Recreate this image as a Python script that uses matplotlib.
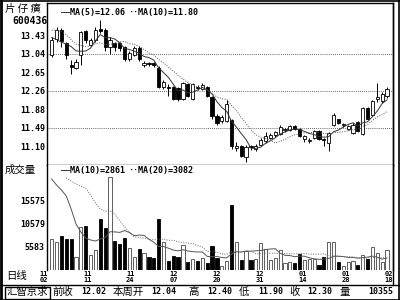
import matplotlib
matplotlib.use("Agg")
import matplotlib.pyplot as plt
from matplotlib.patches import Rectangle
from matplotlib.lines import Line2D
import matplotlib.transforms as mtransforms
import numpy as np
import pandas as pd

# 片仔癀 600436 日线

# 窗口之前的数据, 只用来算均线
prev_close = [13.50, 13.62, 13.70, 13.80, 13.85, 13.75, 13.60, 13.20, 13.05]
prev_volume = [20100, 16200, 18700, 18330, 34030, 39500, 37450, 19450,
               18550, 20200, 35300, 35800, 27100, 22930, 7930, 6940]

open_ = [13.02, 13.35, 13.55, 13.27, 12.80, 12.75, 13.02, 13.53, 13.23, 13.33,
         13.57, 13.55, 13.18, 13.27, 13.27, 13.18, 12.94, 13.02, 13.16, 12.80,
         12.84, 12.86, 12.75, 12.34, 12.35, 12.34, 12.32, 12.10, 12.40, 12.10,
         12.34, 12.30, 12.34, 12.14, 11.73, 11.62, 11.62, 11.64, 11.05, 11.11,
         10.87, 11.09, 11.03, 11.13, 11.21, 11.27, 11.33, 11.35, 11.43, 11.43,
         11.52, 11.45, 11.25, 11.21, 11.27, 11.41, 11.25, 11.17, 11.55, 11.66,
         11.54, 11.45, 11.37, 11.60, 11.36, 11.91, 11.75, 12.10, 12.04, 12.16]
high = [13.40, 13.60, 13.58, 13.30, 12.92, 12.93, 13.53, 13.55, 13.38, 13.60,
        13.76, 13.58, 13.40, 13.30, 13.30, 13.20, 13.10, 13.20, 13.20, 12.90,
        12.88, 12.88, 12.78, 12.50, 12.40, 12.36, 12.34, 12.45, 12.42, 12.42,
        12.38, 12.42, 12.36, 12.16, 11.78, 11.75, 12.06, 11.66, 11.18, 11.13,
        11.13, 11.12, 11.15, 11.26, 11.40, 11.38, 11.42, 11.55, 11.48, 11.54,
        11.54, 11.47, 11.33, 11.27, 11.43, 11.43, 11.27, 11.40, 11.80, 11.68,
        11.58, 11.55, 11.58, 11.62, 11.93, 11.93, 12.07, 12.42, 12.24, 12.34]
low = [12.98, 13.30, 13.18, 12.93, 12.61, 12.72, 12.81, 13.28, 13.20, 13.30,
       13.48, 13.10, 13.05, 13.10, 13.10, 12.90, 12.90, 13.00, 12.90, 12.76,
       12.78, 12.76, 12.32, 12.30, 12.15, 12.08, 12.05, 12.08, 12.14, 12.06,
       12.28, 12.28, 12.14, 11.66, 11.55, 11.58, 11.60, 11.04, 10.99, 10.86,
       10.77, 11.02, 11.00, 11.10, 11.16, 11.24, 11.30, 11.33, 11.40, 11.41,
       11.43, 11.29, 11.18, 11.16, 11.25, 11.23, 11.10, 10.99, 11.52, 11.56,
       11.50, 11.43, 11.35, 11.39, 11.34, 11.66, 11.73, 12.02, 12.00, 12.12]
close = [13.33, 13.55, 13.31, 13.02, 12.77, 12.88, 13.51, 13.33, 13.33, 13.55,
         13.53, 13.18, 13.33, 13.18, 13.16, 12.94, 13.06, 13.16, 12.94, 12.84,
         12.82, 12.80, 12.34, 12.45, 12.33, 12.10, 12.10, 12.42, 12.16, 12.40,
         12.32, 12.38, 12.16, 11.73, 11.58, 11.71, 11.99, 11.11, 11.11, 10.90,
         11.07, 11.07, 11.11, 11.23, 11.31, 11.33, 11.39, 11.50, 11.45, 11.52,
         11.45, 11.31, 11.31, 11.23, 11.41, 11.25, 11.23, 11.37, 11.75, 11.58,
         11.56, 11.52, 11.54, 11.41, 11.91, 11.68, 12.05, 12.14, 12.20, 12.30]
volume = [7100, 6450, 7750, 7100, 7100, 3200, 9700, 9930, 3630, 4700,
          11450, 9500, 20570, 6670, 6000, 7320, 5150, 3200, 4930, 4060,
          3200, 2980, 11450, 6450, 2330, 3410, 3200, 5800, 2100, 2760,
          2330, 2980, 1900, 5580, 2980, 1250, 2330, 14500, 6450, 2540,
          4500, 2540, 2760, 6230, 4930, 2540, 2980, 4700, 1900, 2100,
          1900, 3850, 2540, 2760, 2760, 1470, 3200, 6450, 6450, 2100,
          1250, 2100, 2330, 1470, 3630, 2760, 5370, 4060, 2100, 4700]

date_labels = ["11\n02", "11\n11", "11\n24", "12\n07", "12\n20",
               "12\n31", "01\n14", "01\n28", "02\n18"]
price_ticks = [13.43, 13.04, 12.65, 12.26, 11.88, 11.49, 11.10]
grid_levels = [13.04, 12.26, 11.49]
vol_ticks = [15575, 10579, 5583]
price_legend = ["MA(5)=12.06", "MA(10)=11.80"]
vol_legend = ["MA(10)=2861", "MA(20)=3082"]
info_names = ["前收", "本周开", "高", "低", "收", "量"]
info_values = ["12.02", "12.04", "12.40", "11.90", "12.30", "10355"]

MONO = "DejaVu Sans Mono"
CJK = ["Noto Sans CJK SC", "DejaVu Sans"]

W, H = 400, 300


def fx(px):
    return px / W


def fy(py):
    return 1 - py / H


def fline(x0, y0, x1, y1, lw=1.0):
    fig.add_artist(Line2D([fx(x0), fx(x1)], [fy(y0), fy(y1)],
                          transform=fig.transFigure, color="black", lw=lw))


# 均线
full_close = pd.Series(prev_close + close)
ma5 = full_close.rolling(5).mean().values[len(prev_close):]
ma10 = full_close.rolling(10).mean().values[len(prev_close):]
full_vol = pd.Series(prev_volume + volume)
vma10 = full_vol.rolling(10).mean().values[len(prev_volume):]
vma20 = full_vol.rolling(20).mean().values[len(prev_volume):]

o = np.array(open_)
c = np.array(close)
x = np.arange(len(close))
up = c >= o

fig = plt.figure(figsize=(4, 3), dpi=100)
fig.patch.set_facecolor("white")

ax_p = fig.add_axes([fx(47), fy(165), fx(393) - fx(47), fy(3) - fy(165)])
ax_v = fig.add_axes([fx(47), fy(270), fx(393) - fx(47), fy(165) - fy(270)])

for ax in (ax_p, ax_v):
    ax.set_xlim(-0.97, 70.23)
    ax.set_xticks([])
    ax.tick_params(axis="y", length=0, pad=1.5)
    for s in ax.spines.values():
        s.set_linewidth(1.0)
ax_v.spines["top"].set_visible(False)
ax_v.spines["bottom"].set_visible(False)

# K线
ax_p.set_ylim(10.70, 14.115)
ax_p.set_yticks(price_ticks, labels=[f"{t:.2f}" for t in price_ticks],
                fontsize=6, fontweight="bold", family=MONO)
for g in grid_levels:
    ax_p.axhline(g, color="#333333", lw=0.6, ls=(0, (1, 1.5)), zorder=1)
ax_p.vlines(x, low, high, color="black", lw=0.7, zorder=2)
ax_p.bar(x, np.abs(c - o), bottom=np.minimum(o, c), width=0.66,
         color=np.where(up, "white", "black"), edgecolor="black", lw=0.6, zorder=3)
ax_p.plot(x, ma5, color="#333333", lw=0.7, zorder=4)
ax_p.plot(x, ma10, color="#555555", lw=0.7, ls=(0, (1, 1.5)), zorder=4)
ax_p.text((60 - 47) / 346, 0.94, "──" + price_legend[0], transform=ax_p.transAxes,
          va="center", fontsize=6, fontweight="bold", family=MONO)
ax_p.text((128 - 47) / 346, 0.94, "··" + price_legend[1], transform=ax_p.transAxes,
          va="center", fontsize=6, fontweight="bold", family=MONO)

# 成交量
ax_v.set_ylim(370, 23180)
ax_v.set_yticks(vol_ticks, labels=[str(t) for t in vol_ticks],
                fontsize=6, fontweight="bold", family=MONO)
ax_v.bar(x, volume, width=0.66, color=np.where(up, "white", "black"),
         edgecolor=np.where(up, "#444444", "black"), lw=0.6, zorder=3)
ax_v.plot(x, vma10, color="#555555", lw=0.7, zorder=4)
ax_v.plot(x, vma20, color="#666666", lw=0.7, ls=(0, (1, 1.5)), zorder=4)
ax_v.text((60 - 47) / 346, 0.943, "──" + vol_legend[0], transform=ax_v.transAxes,
          va="center", fontsize=6, fontweight="bold", family=MONO)
ax_v.text((128 - 47) / 346, 0.943, "··" + vol_legend[1], transform=ax_v.transAxes,
          va="center", fontsize=6, fontweight="bold", family=MONO)

# 日期
trans = mtransforms.blended_transform_factory(ax_v.transData, ax_v.transAxes)
for pos, lab in zip(np.linspace(-1.58, 69.4, len(date_labels)), date_labels):
    ax_v.text(pos, -0.005, lab, transform=trans, ha="center", va="top",
              fontsize=5, fontweight="bold", family=MONO, linespacing=1.0,
              clip_on=False)

# 左上和左侧文字
fig.text(fx(5), fy(9), "片 仔 癀", fontsize=7.5, va="center", family=CJK)
fig.text(fx(48), fy(21), "600436", fontsize=7, va="center", ha="right",
         fontweight="bold", family=MONO)
fig.text(fx(5), fy(170), "成交量", fontsize=7.5, va="center", family=CJK)
fig.text(fx(6), fy(276), "日线", fontsize=7.5, va="center", family=CJK)

# 底部信息栏
fig.text(fx(27), fy(292), "汇智京求", fontsize=7.5, va="center", ha="center", family=CJK)
name_x = [52, 113, 188, 239, 289, 339]
value_x = [81, 151, 207, 258, 307, 368]
for nx, name, vx, val in zip(name_x, info_names, value_x, info_values):
    fig.text(fx(nx), fy(292), name, fontsize=7.5, va="center", family=CJK)
    fig.text(fx(vx), fy(292), val, fontsize=6, va="center", fontweight="bold", family=MONO)

# 边框
fline(0, 0.5, 400, 0.5, lw=1.2)
fline(0.8, 0, 0.8, 300, lw=2.0)
fline(398.5, 0, 398.5, 300, lw=1.2)
fline(0, 299.5, 400, 299.5, lw=1.2)
fline(393, 3, 393, 285, lw=1.0)
fline(0, 285, 400, 285, lw=1.0)
fig.add_artist(Rectangle((fx(4.5), fy(298.5)), fx(50) - fx(4.5), fy(286.5) - fy(298.5),
                         transform=fig.transFigure, fill=False, edgecolor="black", lw=1.0))

fig.savefig("out.png", dpi=100)
